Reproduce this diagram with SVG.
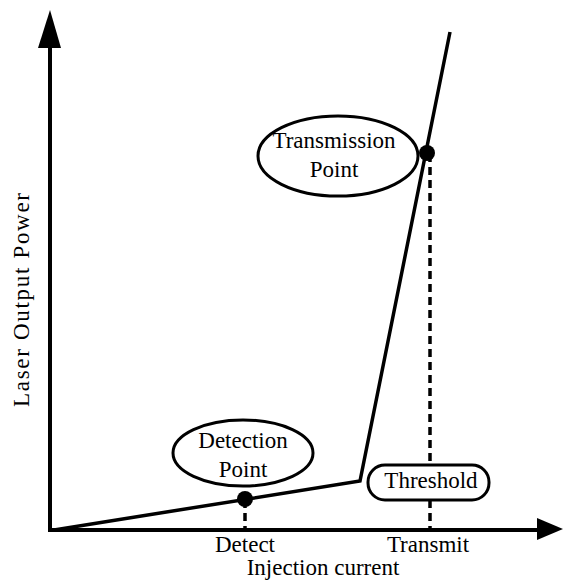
<svg xmlns="http://www.w3.org/2000/svg" width="564" height="583" viewBox="0 0 564 583">
  <style>
    .t { font-family: "Liberation Serif", "Times New Roman", serif; font-size: 23px; fill: #000; text-anchor: middle; }
    .axis { stroke: #000; stroke-width: 4; fill: none; }
    .curve { stroke: #000; stroke-width: 3.5; fill: none; stroke-linejoin: miter; }
    .dash { stroke: #000; stroke-width: 3.5; stroke-dasharray: 8 5; fill: none; }
    .shape { fill: #fff; stroke: #000; stroke-width: 3; }
  </style>
  <rect width="564" height="583" fill="#fff"/>

  <g id="connectors">
    <!-- axes -->
    <line class="axis" x1="50" y1="532" x2="50" y2="40"/>
    <polygon points="50,10 38,48 61,48" fill="#000"/>
    <line class="axis" x1="48" y1="530" x2="540" y2="530"/>
    <polygon points="563,529 537,518 537,540" fill="#000"/>
    <!-- characteristic curve -->
    <polyline class="curve" points="54,530 360,481 450,32"/>
    <!-- drop lines -->
    <line class="dash" x1="245" y1="500" x2="245" y2="530"/>
    <line class="dash" x1="430" y1="154" x2="430" y2="465"/>
    <line class="dash" x1="430" y1="500" x2="430" y2="530"/>
    <circle cx="245" cy="499" r="8" fill="#000"/>
    <circle cx="427" cy="153" r="8" fill="#000"/>
  </g>

  <g id="detection-point">
    <ellipse class="shape" cx="243" cy="453" rx="70" ry="33"/>
    <text class="t" x="243" y="448">Detection</text>
    <text class="t" x="243" y="477">Point</text>
  </g>

  <g id="transmission-point">
    <ellipse class="shape" cx="338" cy="156" rx="80" ry="40"/>
    <text class="t" x="334" y="148">Transmission</text>
    <text class="t" x="334" y="177">Point</text>
  </g>

  <g id="threshold">
    <rect class="shape" x="368" y="465" width="121" height="35" rx="17" ry="17"/>
    <text class="t" x="431" y="488">Threshold</text>
  </g>

  <g id="labels">
    <text class="t" x="245" y="552">Detect</text>
    <text class="t" x="428" y="552">Transmit</text>
    <text class="t" x="323" y="575">Injection current</text>
    <text class="t" transform="translate(29,300) rotate(-90)" textLength="214" lengthAdjust="spacing">Laser Output Power</text>
  </g>
</svg>
